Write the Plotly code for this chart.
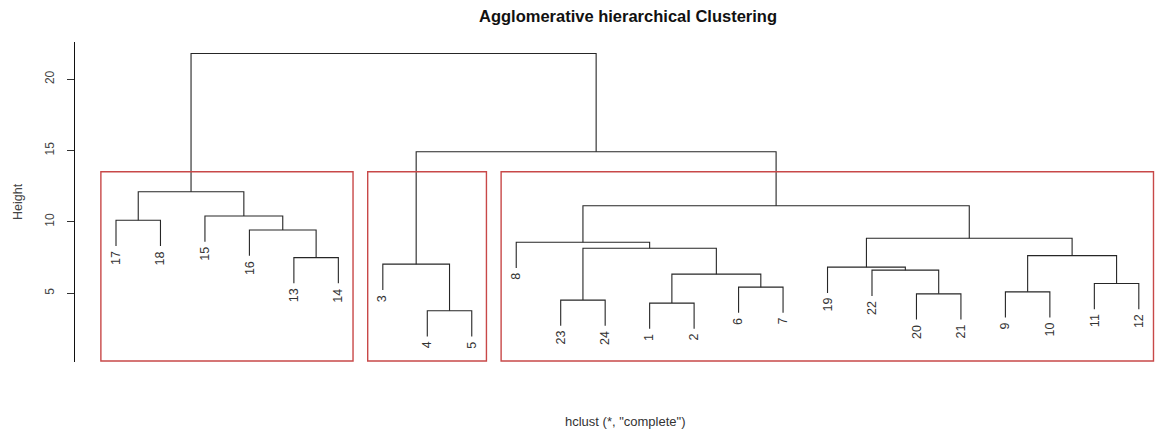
import plotly.graph_objects as go

# ---- data (R hclust style: negative = leaf label, positive = 1-based merge index) ----
leaf_order = [17, 18, 15, 16, 13, 14, 3, 4, 5, 8, 23, 24, 1, 2, 6, 7, 19, 22, 20, 21, 9, 10, 11, 12]
merge_left = [-4, -1, -23, -20, -9, -6, -11, 2, -22, -19, -3, -13, 5, 3, -8, 10, -16, -17, -15, 15, 18, 11, 21]
merge_right = [-5, -2, -24, -21, -10, -7, -12, 6, 4, 9, 1, -14, 7, 8, 14, 13, 12, -18, 17, 16, 19, 20, 22]
merge_height = [3.76, 4.30, 4.51, 4.95, 5.09, 5.42, 5.67, 6.33, 6.61, 6.82, 7.03, 7.49, 7.63,
                8.15, 8.57, 8.85, 9.43, 10.11, 10.41, 11.13, 12.11, 14.91, 21.80]
n_clusters = 3
y_ticks = [5, 10, 15, 20]

# ---- layout constants ----
W, H = 1157, 432
Y_MIN, Y_MAX = 0.17, 22.61
X_MIN, X_MAX = 0.078, 24.409
hang = 0.1 * (max(merge_height) - min(merge_height))
FONT = "Liberation Sans, Arial, sans-serif"

leaf_pos = {lab: i + 1 for i, lab in enumerate(leaf_order)}
node_x = {}


def child_xy(ref, parent_h):
    if ref < 0:
        return leaf_pos[-ref], parent_h - hang
    return node_x[ref], merge_height[ref - 1]


xs, ys = [], []
leaf_ends = {}
for i, (a, b, h) in enumerate(zip(merge_left, merge_right, merge_height), start=1):
    xa, ya = child_xy(a, h)
    xb, yb = child_xy(b, h)
    if a < 0:
        leaf_ends[-a] = (xa, ya)
    if b < 0:
        leaf_ends[-b] = (xb, yb)
    node_x[i] = (xa + xb) / 2
    xs += [xa, xa, xb, xb, None]
    ys += [ya, h, h, yb, None]

fig = go.Figure()
fig.add_trace(go.Scatter(x=xs, y=ys, mode="lines", line=dict(color="#262626", width=1.1),
                         hoverinfo="skip", showlegend=False))

# leaf labels
for lab, (x, y) in leaf_ends.items():
    fig.add_annotation(x=x, y=y, text=str(lab), showarrow=False, textangle=-90,
                       xanchor="center", yanchor="top", yshift=-3,
                       font=dict(family=FONT, size=12.5, color="#333333"))


# cluster rectangles (like rect.hclust)
def leaves_of(ref):
    if ref < 0:
        return [-ref]
    return leaves_of(merge_left[ref - 1]) + leaves_of(merge_right[ref - 1])


n_merge = len(merge_height)
top_merges = set(range(n_merge - n_clusters + 2, n_merge + 1))
groups = []
for m in top_merges:
    for c in (merge_left[m - 1], merge_right[m - 1]):
        if c < 0 or c not in top_merges:
            groups.append(c)
sorted_h = sorted(merge_height, reverse=True)
box_top = (sorted_h[n_clusters - 2] + sorted_h[n_clusters - 1]) / 2
for g in groups:
    idx = [leaf_pos[l] for l in leaves_of(g)]
    fig.add_shape(type="rect", x0=min(idx) - 0.34, x1=max(idx) + 0.33, y0=Y_MIN + 0.07, y1=box_top,
                  line=dict(color="#c84848", width=1.4), layer="above")

plot_left, plot_top, plot_bottom = 75, 42, 362.3
fig.update_layout(
    width=W, height=H,
    margin=dict(l=plot_left, r=0, t=plot_top, b=H - plot_bottom, pad=0),
    paper_bgcolor="white", plot_bgcolor="white",
    xaxis=dict(range=[X_MIN, X_MAX], visible=False),
    yaxis=dict(range=[Y_MIN, Y_MAX], showgrid=False, zeroline=False, showline=True,
               linecolor="#111111", linewidth=1, ticks="outside", ticklen=7, tickcolor="#333333",
               tickvals=y_ticks, ticktext=[str(t) for t in y_ticks], tickangle=-90,
               ticklabelstandoff=8,
               tickfont=dict(family=FONT, size=12, color="#444444")),
    title=dict(text="<b>Agglomerative hierarchical Clustering</b>", x=628 / W, xanchor="center",
               y=1 - 16 / H, yanchor="middle", yref="container",
               font=dict(family=FONT, size=16.5, color="#111111")),
    showlegend=False,
)
fig.add_annotation(xref="paper", yref="paper", x=0, y=0.5, xshift=-57, text="Height",
                   textangle=-90, showarrow=False, xanchor="center", yanchor="middle",
                   font=dict(family=FONT, size=12.5, color="#444444"))
fig.add_annotation(xref="paper", yref="paper", x=(625 - 75) / (W - plot_left), y=0, yshift=-(421 - 362),
                   text='hclust (*, "complete")', showarrow=False, xanchor="center", yanchor="middle",
                   font=dict(family=FONT, size=13, color="#333333"))

fig.write_html("out.html", config={"displayModeBar": False},
               post_script="document.body.style.margin='0';document.body.style.overflow='hidden';")
